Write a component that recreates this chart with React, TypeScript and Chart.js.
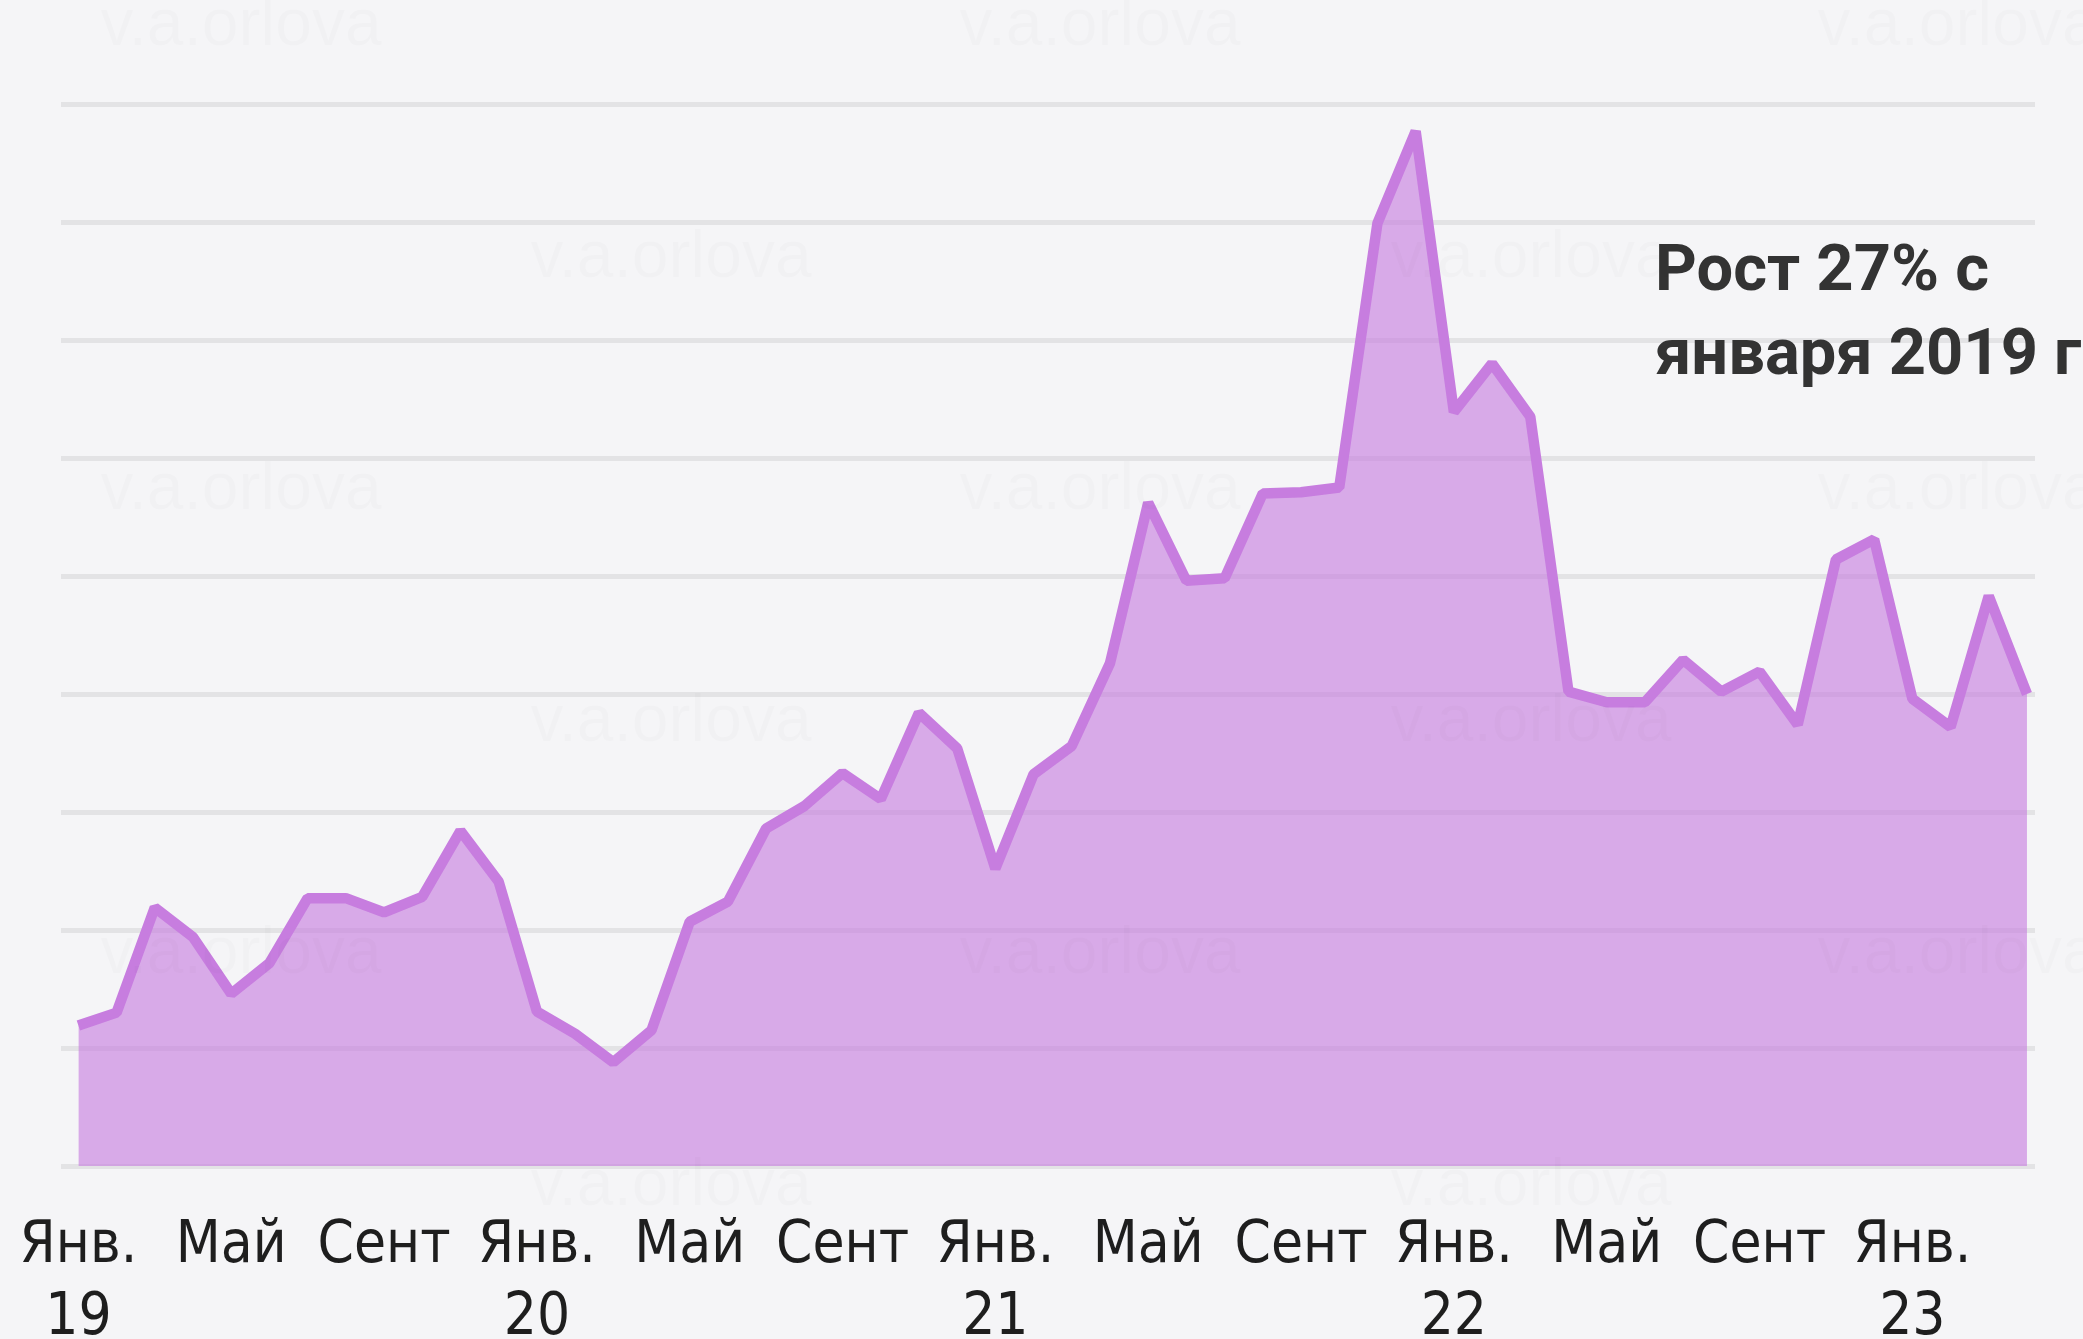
import React, { useEffect, useRef } from "react";
import { Chart, registerables } from "chart.js";

Chart.register(...registerables);

// Monthly values, Jan 2019 .. Apr 2023 (index 0 = Jan 2019)
const values: number[] = [
  11.9, 13.0, 21.9, 19.4, 14.6, 17.2, 22.7, 22.7, 21.5, 22.8, 28.4, 24.1,
  13.1, 11.2, 8.8, 11.5, 20.7, 22.4, 28.6, 30.5, 33.3, 31.1, 38.4, 35.4,
  25.2, 33.2, 35.6, 42.6, 56.2, 49.6, 49.8, 57.0, 57.1, 57.5, 79.9, 87.7,
  63.9, 68.0, 63.5, 40.2, 39.3, 39.3, 42.9, 40.2, 41.9, 37.4, 51.4, 53.1,
  39.6, 37.2, 48.3, 40.0,
];

const tickPositions: number[] = [0, 4, 8, 12, 16, 20, 24, 28, 32, 36, 40, 44, 48];
const tickLabels: (string | string[])[] = [
  ["Янв.", "19"], "Май", "Сент",
  ["Янв.", "20"], "Май", "Сент",
  ["Янв.", "21"], "Май", "Сент",
  ["Янв.", "22"], "Май", "Сент",
  ["Янв.", "23"],
];

const annotationLines: string[] = ["Рост 27% с", "января 2019 г"];
const watermarkText = "v.a.orlova";

const BG = "#f5f5f7";

const decorPlugin = {
  id: "decor",
  afterDraw(chart: any) {
    const ctx = chart.ctx as CanvasRenderingContext2D;
    ctx.save();
    // annotation
    ctx.font = "bold 65px Roboto, 'Liberation Sans', sans-serif";
    ctx.fillStyle = "#333333";
    ctx.textAlign = "left";
    ctx.textBaseline = "alphabetic";
    ctx.fillText(annotationLines[0], 1655, 290);
    ctx.fillText(annotationLines[1], 1655, 374);
    // watermarks
    ctx.font = "66px 'Liberation Sans', Arial, sans-serif";
    ctx.fillStyle = "rgba(0,0,0,0.017)";
    ctx.textAlign = "center";
    const rowA = [45, 509, 973];
    const rowB = [277, 741, 1205];
    rowA.forEach((y) => [241, 1100, 1958].forEach((x) => ctx.fillText(watermarkText, x, y)));
    rowB.forEach((y) => [671, 1531].forEach((x) => ctx.fillText(watermarkText, x, y)));
    ctx.restore();
  },
};

export default function App() {
  const ref = useRef<HTMLCanvasElement | null>(null);

  useEffect(() => {
    if (!ref.current) return;
    const chart = new Chart(ref.current, {
      type: "line",
      data: {
        datasets: [
          {
            data: values.map((v, i) => ({ x: i, y: v })),
            borderColor: "#c77ddf",
            backgroundColor: "rgba(196,120,222,0.6)",
            fill: "origin",
            borderWidth: 10.5,
            pointRadius: 0,
            tension: 0,
            borderJoinStyle: "bevel",
          },
        ],
      },
      options: {
        responsive: false,
        animation: false,
        layout: { padding: { left: 61, right: 48, top: 104, bottom: 0 } },
        plugins: { legend: { display: false }, tooltip: { enabled: false } },
        scales: {
          x: {
            type: "linear",
            min: -0.455,
            max: 51.21,
            grid: { display: false, drawTicks: false },
            border: { display: false },
            afterBuildTicks: (scale: any) => {
              scale.ticks = tickPositions.map((v) => ({ value: v }));
            },
            afterFit: (scale: any) => {
              scale.height = 173;
              scale.paddingLeft = 0;
              scale.paddingRight = 0;
            },
            ticks: {
              autoSkip: false,
              maxRotation: 0,
              minRotation: 0,
              padding: 45,
              color: "#1e1e1e",
              font: { family: "'Liberation Sans Narrow', 'DejaVu Sans Condensed', sans-serif", size: 58, lineHeight: 1.24 },
              callback: (value: any) => {
                const idx = tickPositions.indexOf(Number(value));
                return idx >= 0 ? tickLabels[idx] : "";
              },
            },
          },
          y: {
            min: 0,
            max: 90,
            grid: { color: "#e3e3e5", lineWidth: 5, drawTicks: false },
            border: { display: false },
            ticks: { display: false, stepSize: 10 },
            afterFit: (scale: any) => {
              scale.width = 0;
            },
          },
        },
      },
      plugins: [decorPlugin],
    } as any);
    return () => chart.destroy();
  }, []);

  return (
    <div style={{ position: "absolute", left: 0, top: 0, width: 2083, height: 1339, background: BG, overflow: "hidden" }}>
      <canvas ref={ref} width={2083} height={1339} style={{ width: 2083, height: 1339, display: "block" }} />
    </div>
  );
}
